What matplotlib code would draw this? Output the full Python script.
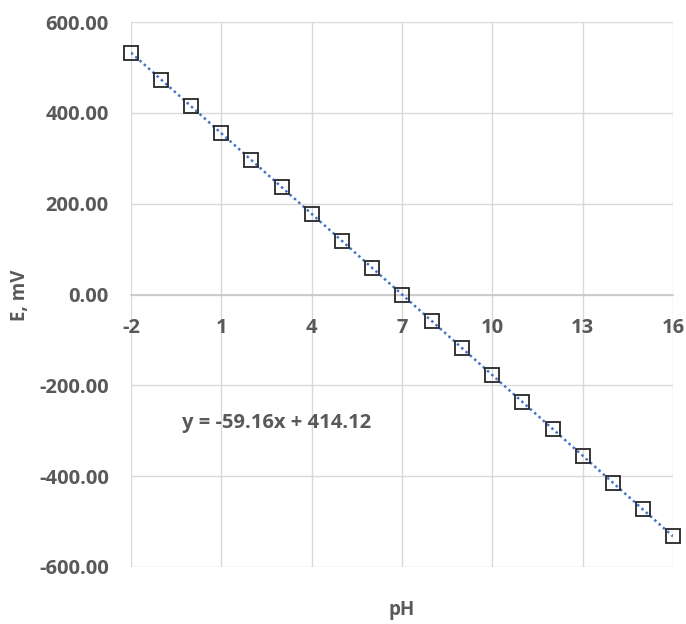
import numpy as np
import matplotlib.pyplot as plt

# pH values and measured potential (mV)
ph = [-2, -1, 0, 1, 2, 3, 4, 5, 6, 7, 8, 9, 10, 11, 12, 13, 14, 15, 16]
e_mv = [532.44, 473.28, 414.12, 354.96, 295.80, 236.64, 177.48, 118.32, 59.16, 0.0,
        -59.16, -118.32, -177.48, -236.64, -295.80, -354.96, -414.12, -473.28, -532.44]
x_ticks = [-2, 1, 4, 7, 10, 13, 16]
y_ticks = [-600, -400, -200, 0, 200, 400, 600]
equation = 'y = -59.16x + 414.12'

plt.rcParams['font.family'] = ['Open Sans', 'DejaVu Sans']
plt.rcParams['axes.unicode_minus'] = False
text_color = '#595959'
grid_color = '#d9d9d9'

fig = plt.figure(figsize=(6.86, 6.24), dpi=100)
ax = fig.add_axes([131 / 686, 1 - 567 / 624, 542 / 686, 545 / 624])

# linear trendline
slope, intercept = np.polyfit(ph, e_mv, 1)
xs = np.array([ph[0], ph[-1]])
ax.plot(xs, slope * xs + intercept, linestyle=(0, (1, 1.3)), color='#4472C4', linewidth=1.8, zorder=3)

ax.plot(ph, e_mv, linestyle='none', marker='s', markersize=10, markerfacecolor='none',
        markeredgecolor='#262626', markeredgewidth=1.3, zorder=4, clip_on=False)

ax.set_xlim(-2, 16)
ax.set_ylim(-600, 600)
ax.set_xticks(x_ticks)
ax.set_yticks(y_ticks)
ax.set_yticklabels([f'{v:.2f}' for v in y_ticks])

for s in ['top', 'right', 'left']:
    ax.spines[s].set_visible(False)
ax.spines['bottom'].set_position(('data', 0))
ax.spines['bottom'].set_color('#c8c8c8')
ax.spines['bottom'].set_linewidth(1.2)

ax.grid(True, color=grid_color, linewidth=1.0, zorder=0)
ax.set_axisbelow(True)
ax.tick_params(length=0, labelsize=14.5, labelcolor=text_color)
ax.tick_params(axis='x', pad=17)
ax.tick_params(axis='y', pad=16)
for lbl in ax.get_xticklabels() + ax.get_yticklabels():
    lbl.set_fontweight('bold')

ax.text(2.85, -283, equation, fontsize=14.5, fontweight='bold', color=text_color,
        ha='center', va='center')

fig.text(402 / 686, 1 - 610 / 624, 'pH', fontsize=13.5, fontweight='bold', color=text_color,
         ha='center', va='center')
fig.text(20 / 686, 1 - 295 / 624, 'E, mV', fontsize=13.5, fontweight='bold', color=text_color,
         ha='center', va='center', rotation=90)

fig.savefig('out.png', dpi=100, facecolor='white')
